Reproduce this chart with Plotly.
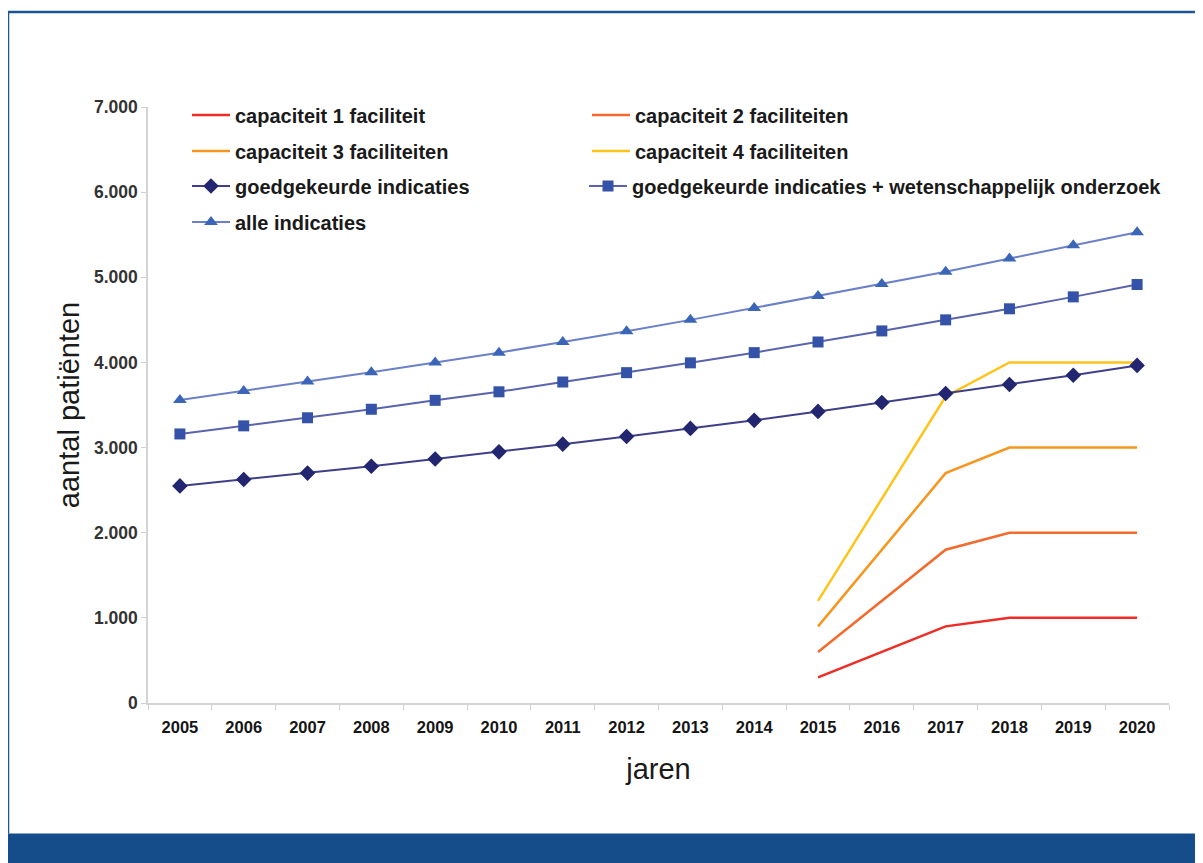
import plotly.graph_objects as go

years = [str(y) for y in range(2005, 2021)]
cap_years = ["2015", "2016", "2017", "2018", "2019", "2020"]

cap1 = [300, 600, 900, 1000, 1000, 1000]
cap2 = [600, 1200, 1800, 2000, 2000, 2000]
cap3 = [900, 1800, 2700, 3000, 3000, 3000]
cap4 = [1200, 2400, 3600, 4000, 4000, 4000]

goedgekeurd = [2550, 2625, 2700, 2780, 2865, 2950, 3040, 3130, 3225, 3320,
               3425, 3530, 3635, 3740, 3850, 3965]
goedgekeurd_wo = [3160, 3255, 3350, 3450, 3555, 3655, 3770, 3880, 3995, 4115,
                  4240, 4370, 4500, 4630, 4770, 4915]
alle = [3560, 3665, 3775, 3885, 4000, 4115, 4240, 4365, 4500, 4640,
        4780, 4920, 5065, 5220, 5375, 5530]

y_ticks = [0, 1000, 2000, 3000, 4000, 5000, 6000, 7000]

FONT = "Liberation Sans, Arial, sans-serif"

fig = go.Figure()

def capline(name, vals, color, legend):
    fig.add_trace(go.Scatter(x=cap_years, y=vals, name=name, mode="lines",
                             line=dict(color=color, width=2.5), legend=legend))

capline("capaciteit 1 faciliteit", cap1, "#ee2b24", "legend")
capline("capaciteit 2 faciliteiten", cap2, "#f26a2c", "legend")
capline("capaciteit 3 faciliteiten", cap3, "#f7961f", "legend2")
capline("capaciteit 4 faciliteiten", cap4, "#fdc41c", "legend2")

fig.add_trace(go.Scatter(x=years, y=goedgekeurd, name="goedgekeurde indicaties",
                         mode="lines+markers", legend="legend3",
                         line=dict(color="#3e3f88", width=2),
                         marker=dict(symbol="diamond", size=12, color="#222670")))
fig.add_trace(go.Scatter(x=years, y=goedgekeurd_wo,
                         name="goedgekeurde indicaties + wetenschappelijk onderzoek",
                         mode="lines+markers", legend="legend5",
                         line=dict(color="#5a63ad", width=2),
                         marker=dict(symbol="square", size=11, color="#3453a8")))
fig.add_trace(go.Scatter(x=years, y=alle, name="alle indicaties",
                         mode="lines+markers", legend="legend4",
                         line=dict(color="#6b80c8", width=2),
                         marker=dict(symbol="triangle-up", size=12, color="#3b66b8")))

# page offset of the figure (body margin) and plot area in page pixels
OFF = 8
L, R, T, B = 148, 1169, 107, 703.5
W, H = R - L, B - T

def px(x):
    return (x - L) / W

def py(y):
    return (B - y) / H

LEG_X = 187
COL2 = 397
leg_common = dict(orientation="h", entrywidth=COL2 - 50, entrywidthmode="pixels",
                  xanchor="left", yanchor="middle", itemwidth=38,
                  font=dict(family=FONT, size=20, color="#1a1a1a", weight="bold"),
                  bgcolor="rgba(0,0,0,0)", borderwidth=0)
row_y = [115, 151, 186, 222]

fig.update_layout(
    width=1203 - OFF, height=863 - OFF,
    margin=dict(l=L - OFF, r=1203 - R, t=T - OFF, b=863 - B),
    paper_bgcolor="white", plot_bgcolor="white",
    separators=",.",
    font=dict(family=FONT, color="#222"),
    legend=dict(**leg_common, x=px(LEG_X), y=py(row_y[0])),
    legend2=dict(**leg_common, x=px(LEG_X), y=py(row_y[1])),
    legend3=dict(**leg_common, x=px(LEG_X), y=py(row_y[2])),
    legend5=dict(**{**leg_common, "entrywidth": 0}, x=px(LEG_X + COL2), y=py(row_y[2])),
    legend4=dict(**leg_common, x=px(LEG_X), y=py(row_y[3])),
    xaxis=dict(type="category", categoryorder="array", categoryarray=years,
               range=[-0.5, 15.5], tickson="boundaries", ticks="outside",
               ticklen=5, tickcolor="#cfcfcf", showline=True, linecolor="#d4d4d4",
               linewidth=1.5, showgrid=False, zeroline=False, ticklabelstandoff=8,
               tickfont=dict(family=FONT, size=16.5, color="#151515", weight="bold"),
               title=dict(text="jaren", standoff=24,
                          font=dict(family=FONT, size=29, color="#1a1a1a"))),
    yaxis=dict(range=[0, 7000], tickvals=y_ticks, tickformat=",d",
               ticks="outside", ticklen=5, tickcolor="#cfcfcf", showline=True,
               linecolor="#d4d4d4", linewidth=1.5, showgrid=False, zeroline=False,
               tickfont=dict(family=FONT, size=17.5, color="#333", weight="bold"),
               title=dict(text="aantal patiënten", standoff=6,
                          font=dict(family=FONT, size=29, color="#1a1a1a"))),
    shapes=[
        dict(type="rect", xref="paper", yref="paper", x0=px(7), x1=px(1210),
             y0=py(834), y1=py(870), fillcolor="#154d8b", line=dict(width=0),
             layer="below"),
        dict(type="line", xref="paper", yref="paper", x0=px(8), x1=px(1210),
             y0=py(12), y1=py(12), line=dict(color="#1d5496", width=2.5)),
        dict(type="line", xref="paper", yref="paper", x0=px(8), x1=px(8),
             y0=py(12), y1=py(834), line=dict(color="#1d5496", width=2.5)),
    ],
)

fig.write_html("out.html")
